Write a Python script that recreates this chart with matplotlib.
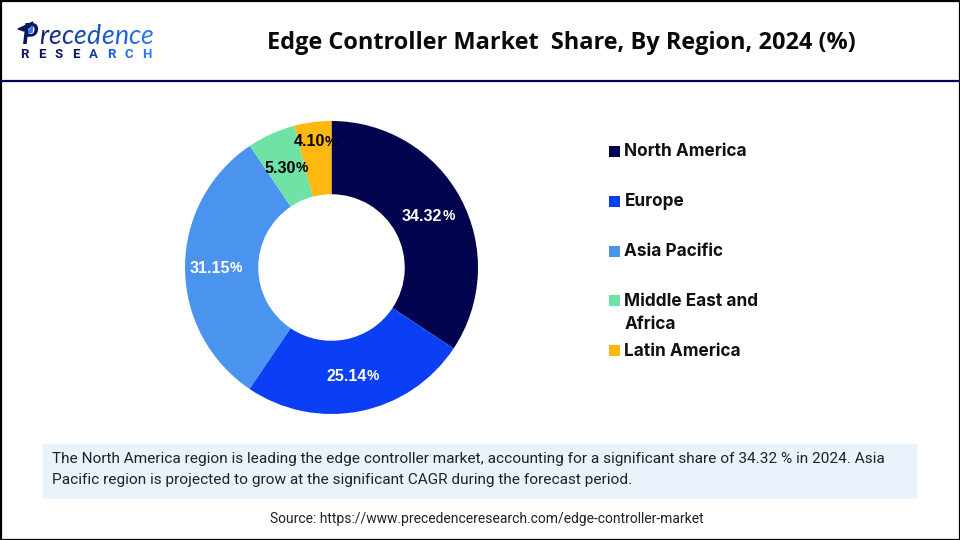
import numpy as np
import matplotlib
matplotlib.use("Agg")
import matplotlib.pyplot as plt
from matplotlib.patches import Rectangle, Polygon

# data
regions = ["North America", "Europe", "Asia Pacific", "Middle East and\nAfrica", "Latin America"]
shares = [34.32, 25.14, 31.15, 5.30, 4.10]
share_labels = ["34.32", "25.14", "31.15", "5.30", "4.10"]
colors = ["#02044F", "#0A3FF5", "#4A94F0", "#6FE3A5", "#FFB80D"]
label_colors = ["white", "white", "white", "black", "black"]
label_radius = [0.75, 0.75, 0.79, 0.75, 0.87]

title = "Edge Controller Market  Share, By Region, 2024 (%)"
note_lines = [
    "The North America region is leading the edge controller market, accounting for a significant share of 34.32 % in 2024. Asia",
    "Pacific region is projected to grow at the significant CAGR during the forecast period.",
]
source = "Source: https://www.precedenceresearch.com/edge-controller-market"

legend_y = [151, 201, 251, 300, 350]

fig = plt.figure(figsize=(9.6, 5.4), dpi=100, facecolor="white")

# full figure axes in pixel coords for the frame, header and text
bg = fig.add_axes([0, 0, 1, 1])
bg.set_xlim(0, 960)
bg.set_ylim(540, 0)
bg.axis("off")

bg.add_patch(Rectangle((0.5, 0.5), 959, 539, fill=False, ec="black", lw=1.6))
bg.plot([0, 960], [81, 81], color="#02044F", lw=1.6)
bg.text(561, 43, title, ha="center", va="center", fontsize=16.9, fontweight="bold",
        family="Open Sans", color="#0a0a0a")


def draw_run(x, y, text, cols, **kw):
    # letters one after another so each can have its own colour
    rend = fig.canvas.get_renderer()
    gap = kw.pop("gap", 0)
    for ch, c in zip(text, cols):
        t = bg.text(x, y, ch, color=c, ha="left", va="baseline", **kw)
        bb = t.get_window_extent(rend)
        x += bb.width + gap


# logo
logo_cols = ["#10246E", "#122F85", "#143A9A", "#1646B0", "#1850C4", "#1A5AD4", "#2066DC", "#2870E0", "#2F7AE6"]
draw_run(22, 43.5, "P", ["#0A1560"], fontsize=20, family="Lato", style="italic", fontweight="bold")
bg.add_patch(Polygon([[18, 29], [33, 22], [30, 27], [24, 31]], color="#0A1560"))
bg.add_patch(Polygon([[27, 34], [33, 25], [32, 32]], color="#2F7AE6"))
draw_run(39, 43.5, "recedence", logo_cols, fontsize=19.2, family="Lato", style="italic", gap=0.2)
draw_run(20, 58, "RESEARCH", ["#0A1560"] * 4 + ["#143A9A", "#1A5AD4", "#2870E0", "#2F7AE6"],
         fontsize=9.5, family="Roboto", fontweight="bold", gap=9.2)

# legend
for name, col, y in zip(regions, colors, legend_y):
    bg.add_patch(Rectangle((609, y - 5.5), 11, 11, color=col, lw=0))
    bg.text(624.5, y - 7.5, name, ha="left", va="top", fontsize=12.4, fontweight="bold",
            family="Inter", color="#111111", linespacing=1.5)

# note box and source
bg.add_patch(Rectangle((43, 444), 874, 55, color="#EAF2FB", lw=0))
for line, y in zip(note_lines, [459, 480]):
    bg.text(52, y, line, ha="left", va="center", fontsize=11.05, family="Roboto", color="#222222")
bg.text(486.5, 518.5, source, ha="center", va="center", fontsize=10, family="Roboto", color="#222222")

# donut
cx, cy, r = 331.5, 267.5, 146.5
ax = fig.add_axes([(cx - r) / 960, (540 - cy - r) / 540, 2 * r / 960, 2 * r / 540])
ax.pie(shares, colors=colors, startangle=90, counterclock=False, radius=1,
       wedgeprops=dict(width=0.5, linewidth=0))
ax.set_xlim(-1, 1)
ax.set_ylim(-1, 1)

# value labels at each slice middle, % sign a bit smaller
rend = fig.canvas.get_renderer()
total = sum(shares)
cum = np.cumsum([0] + shares[:-1])
for val, lab, c, rad, start in zip(shares, share_labels, label_colors, label_radius, cum):
    ang = 2 * np.pi * (start + val / 2) / total
    x, y = rad * np.sin(ang), rad * np.cos(ang) - 0.005
    num = ax.text(x, y, lab, ha="left", va="center", fontsize=11.5, fontweight="bold",
                  family="Liberation Sans", color=c, zorder=5)
    pct = ax.text(x, y, "%", ha="left", va="center", fontsize=10, fontweight="bold",
                  family="Liberation Sans", color=c, zorder=5)
    # centre number + % together on the slice
    w_num = num.get_window_extent(rend).width / (r)
    w_pct = pct.get_window_extent(rend).width / (r)
    left = x - (w_num + w_pct) / 2
    num.set_x(left)
    pct.set_x(left + w_num)

fig.savefig("out.png", dpi=100)
